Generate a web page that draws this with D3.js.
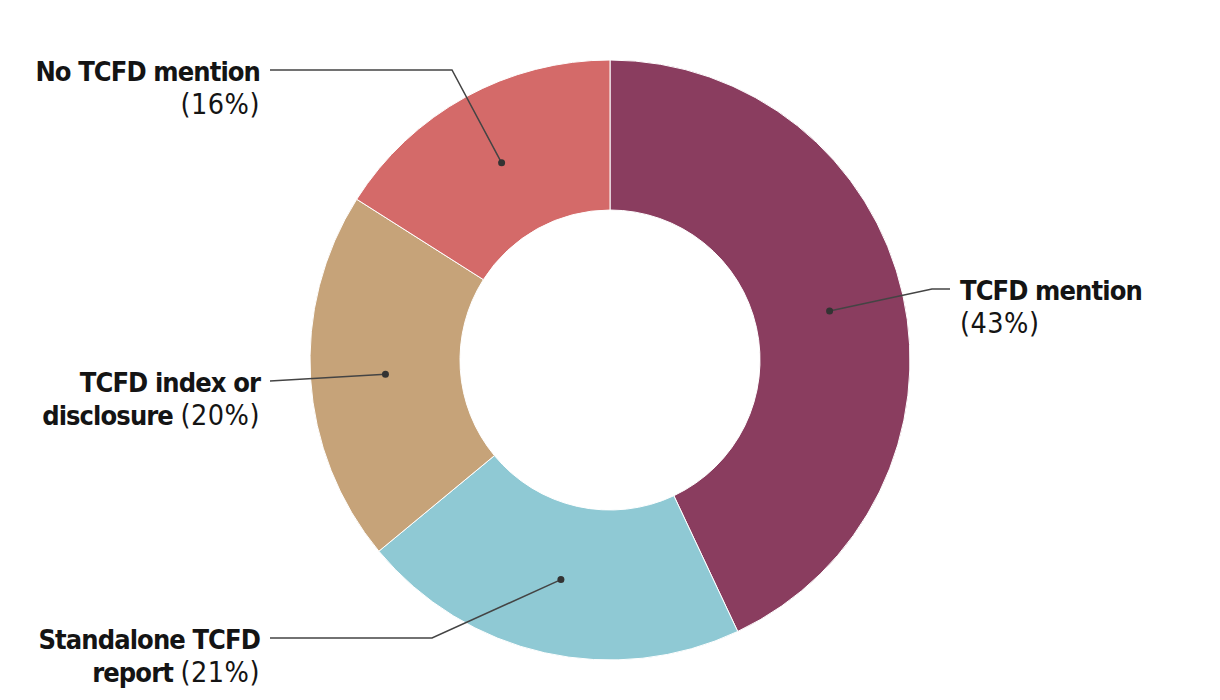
<!DOCTYPE html>
<html><head><meta charset="utf-8">
<script src="https://cdn.jsdelivr.net/npm/d3@7"></script>
<style>
html,body{margin:0;padding:0;background:#fff;}
text{font-family:"DejaVu Sans Condensed","Liberation Sans Narrow",sans-serif;font-stretch:condensed;fill:#141414;}
</style></head>
<body><svg id="chart" width="1220" height="700"></svg>
<script>
const categories = ["TCFD mention", "Standalone TCFD report", "TCFD index or disclosure", "No TCFD mention"];
const values = [43, 21, 20, 16];
const colors = ["#8A3D5F", "#8FC9D4", "#C6A379", "#D46A69"];
// label lines: [bold part, regular part] per line
const labelLines = [
  [["TCFD mention",""],["","(43%)"]],
  [["Standalone TCFD",""],["report ","(21%)"]],
  [["TCFD index or",""],["disclosure ","(20%)"]],
  [["No TCFD mention",""],["","(16%)"]]
];
const labelLayout = [
  {side:"right", elbowX:932, lineY:289, textX:960, endX:950},
  {side:"left", elbowX:432, lineY:638, textX:260, endX:270},
  {side:"left", elbowX:null, lineY:381, textX:260, endX:270},
  {side:"left", elbowX:452, lineY:70, textX:260, endX:270}
];

const svg = d3.select("#chart");
const cx = 610, cy = 360, outerR = 300, innerR = 150;
const g = svg.append("g").attr("transform", `translate(${cx},${cy})`);
const pie = d3.pie().sort(null).value(d => d)(values);
const arc = d3.arc().innerRadius(innerR).outerRadius(outerR);
const color = d3.scaleOrdinal().domain(categories).range(colors);

g.selectAll("path.slice").data(pie).join("path")
  .attr("class","slice")
  .attr("d", arc)
  .attr("fill", (d,i) => color(categories[i]))
  .attr("stroke", "#fff").attr("stroke-width", 1);

pie.forEach((d,i) => {
  const [px,py] = arc.centroid(d);
  const x0 = cx+px, y0 = cy+py;
  const L = labelLayout[i];
  const pts = [[x0,y0]];
  if (L.elbowX !== null) pts.push([L.elbowX, L.lineY]);
  pts.push([L.endX, L.lineY]);
  svg.append("path").attr("d", d3.line()(pts))
    .attr("fill","none").attr("stroke","#444").attr("stroke-width",1.5);
  svg.append("circle").attr("cx",x0).attr("cy",y0).attr("r",3.5).attr("fill","#333");
  const t = svg.append("text")
    .attr("text-anchor", L.side==="left" ? "end" : "start");
  labelLines[i].forEach((ln, j) => {
    const ts = t.append("tspan").attr("x", L.textX).attr("y", L.lineY + 11 + j*33);
    if (ln[0]) ts.append("tspan").attr("font-weight","bold").attr("font-size",27).attr("letter-spacing","-0.9").text(ln[0]);
    if (ln[1]) ts.append("tspan").attr("font-weight","normal").attr("font-size",28.5).attr("letter-spacing","0.5").text(ln[1]);
  });
});
</script></body></html>
